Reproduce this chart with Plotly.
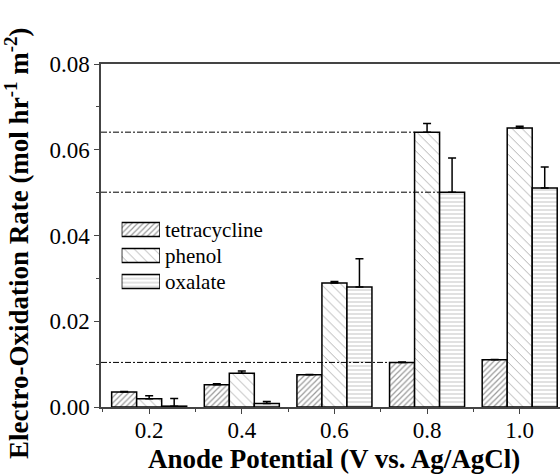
import plotly.graph_objects as go

# ---- data ----
potentials = [0.2, 0.4, 0.6, 0.8, 1.0]
tick_labels = ["0.2", "0.4", "0.6", "0.8", "1.0"]
series_names = ["tetracycline", "phenol", "oxalate"]
tetracycline = [0.0035, 0.0052, 0.0075, 0.0104, 0.0110]
tetracycline_err = [0.0001, 0.0002, 0.0001, 0.0001, 0.0001]
phenol = [0.0019, 0.0079, 0.0289, 0.0641, 0.0651]
phenol_err = [0.0007, 0.0005, 0.0004, 0.0020, 0.0004]
oxalate = [0.0002, 0.0008, 0.0280, 0.0501, 0.0511]
oxalate_err = [0.0018, 0.0005, 0.0066, 0.0080, 0.0049]
y_ticks = [0.00, 0.02, 0.04, 0.06, 0.08]

# ---- styles ----
FONT = "Liberation Serif, Times New Roman, Times, serif"
bar_w = 0.054
bargap = 1 - 3 * bar_w / 0.2
patterns = [
    dict(shape="/", size=4, solidity=0.3, fgcolor="#333", bgcolor="white"),
    dict(shape="\\", size=7, solidity=0.13, fgcolor="#555", bgcolor="white"),
    dict(shape="-", size=4, solidity=0.25, fgcolor="#888", bgcolor="white"),
]
values = [tetracycline, phenol, oxalate]
errors = [tetracycline_err, phenol_err, oxalate_err]

fig = go.Figure()
for name, vals, errs, pat in zip(series_names, values, errors, patterns):
    fig.add_trace(go.Bar(
        x=potentials, y=vals, name=name, showlegend=False,
        marker=dict(color="white", line=dict(color="black", width=1.5), pattern=pat),
        error_y=dict(type="data", symmetric=False, array=errs,
                     arrayminus=[0] * len(errs), color="black", thickness=1.5, width=4),
    ))

# custom legend (pattern swatches) on hidden mini-axes
fig.add_trace(go.Bar(
    y=series_names, x=[1, 1, 1], orientation="h", base=0, width=0.54,
    xaxis="x2", yaxis="y2", showlegend=False, hoverinfo="skip",
    marker=dict(color="white", line=dict(color="black", width=1.5),
                pattern=dict(shape=[p["shape"] for p in patterns],
                             size=[p["size"] for p in patterns],
                             solidity=[p["solidity"] for p in patterns],
                             fgcolor=[p["fgcolor"] for p in patterns],
                             bgcolor="white")),
))

# dash-dot reference lines from the 0.8 V group
idx = potentials.index(0.8)
ref_specs = [
    (phenol[idx], potentials[idx] - bar_w / 2),
    (oxalate[idx], potentials[idx] + bar_w / 2),
    (tetracycline[idx], potentials[idx] - 1.5 * bar_w),
]
x_min, x_max = 0.096, 1.087
for yv, xe in ref_specs:
    fig.add_shape(type="line", xref="x", yref="y", x0=x_min, x1=xe, y0=yv, y1=yv,
                  line=dict(color="black", width=1, dash="6px,2px,2px,2px"), layer="above")

axis_col = "#444"
tick_font = dict(family=FONT, size=23, color="black")
fig.update_layout(
    width=560, height=474,
    margin=dict(l=101, r=0, t=64, b=67),
    paper_bgcolor="white", plot_bgcolor="white",
    barmode="group", bargap=bargap, bargroupgap=0,
    showlegend=False,
    font=dict(family=FONT, color="black", size=21),
    xaxis=dict(range=[x_min, x_max], tickvals=potentials, ticktext=tick_labels,
               showline=True, linecolor=axis_col, linewidth=1.5, mirror=True,
               ticks="outside", ticklen=5, tickcolor=axis_col, tickwidth=1.2,
               ticklabelstandoff=-3,
               minor=dict(tick0=0.1, dtick=0.2, ticks="outside", ticklen=3,
                          tickcolor=axis_col, tickwidth=1.2),
               showgrid=False, zeroline=False, tickfont=tick_font),
    yaxis=dict(range=[0, 0.08], tickvals=y_ticks, tickformat=".2f",
               showline=True, linecolor=axis_col, linewidth=1.5,
               ticks="outside", ticklen=5, tickcolor=axis_col, tickwidth=1.2,
               minor=dict(dtick=0.01, ticks="outside", ticklen=3,
                          tickcolor=axis_col, tickwidth=1.2),
               showgrid=False, zeroline=False, tickfont=tick_font),
    xaxis2=dict(domain=[0.045, 0.1285], anchor="y2", range=[0, 1],
                visible=False, fixedrange=True),
    yaxis2=dict(domain=[0.328, 0.555], anchor="x2", side="right",
                categoryorder="array", categoryarray=series_names[::-1],
                showline=False, showgrid=False, zeroline=False, ticks="",
                ticklabelstandoff=4,
                tickfont=dict(family=FONT, size=21, color="black")),
    annotations=[
        dict(text="Anode Potential (V vs. Ag/AgCl)", xref="paper", yref="paper",
             x=0.508, y=-0.151, xanchor="center", yanchor="middle", showarrow=False,
             font=dict(family=FONT, size=27, color="black", weight="bold")),
        dict(text="Electro-Oxidation Rate (mol hr<sup>-1</sup> m<sup>-2</sup>)",
             xref="paper", yref="paper", x=-0.183, y=0.475, textangle=-90,
             xanchor="center", yanchor="middle", showarrow=False,
             font=dict(family=FONT, size=27, color="black", weight="bold")),
    ],
)

fig.write_html("out.html")
